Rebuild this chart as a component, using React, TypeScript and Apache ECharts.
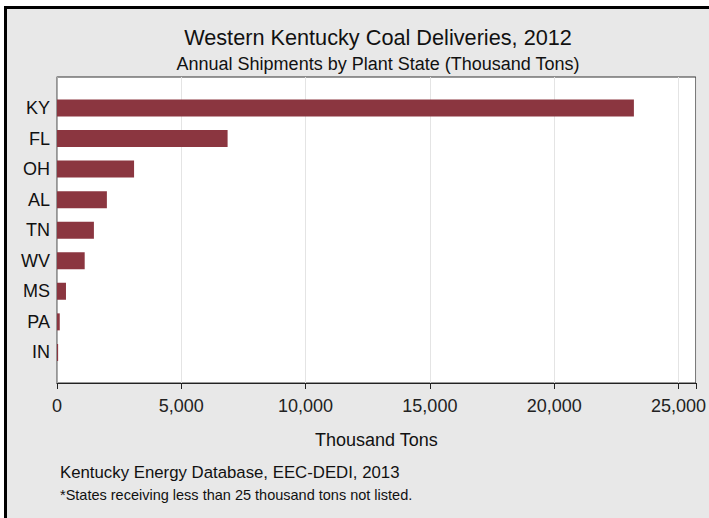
import React, { useEffect, useRef } from "react";
import * as echarts from "echarts";

const states = ["KY", "FL", "OH", "AL", "TN", "WV", "MS", "PA", "IN"];
const shipments = [23130, 6840, 3090, 2000, 1480, 1110, 360, 110, 45];
const xTicks = [0, 5000, 10000, 15000, 20000, 25000];

const FONT = "'Liberation Sans', Arial, sans-serif";

export default function App() {
  const ref = useRef<HTMLDivElement>(null);
  useEffect(() => {
    if (!ref.current) return;
    const chart = echarts.init(ref.current, null, { renderer: "svg" });
    const xMax = 25700;
    chart.setOption({
      animation: false,
      backgroundColor: "#ffffff",
      textStyle: { fontFamily: FONT },
      graphic: [
        {
          type: "rect",
          z: -10,
          silent: true,
          shape: { x: 5.5, y: 7.5, width: 800, height: 600 },
          style: { fill: "#e8e8e8", stroke: "#000", lineWidth: 3 },
        },
        {
          type: "text",
          left: 60,
          top: 464,
          style: { text: "Kentucky Energy Database, EEC-DEDI, 2013", fontSize: 16.8, fill: "#111", fontFamily: FONT },
        },
        {
          type: "text",
          left: 60,
          top: 487.5,
          style: { text: "*States receiving less than 25 thousand tons not listed.", fontSize: 14.5, fill: "#111", fontFamily: FONT },
        },
      ],
      title: [
        {
          text: "Western Kentucky Coal Deliveries, 2012",
          left: 373,
          textAlign: "center",
          top: 21,
          textStyle: { fontSize: 21.7, fontWeight: "normal", color: "#111", fontFamily: FONT },
        },
        {
          text: "Annual Shipments by Plant State (Thousand Tons)",
          left: 373,
          textAlign: "center",
          top: 50,
          textStyle: { fontSize: 18, fontWeight: "normal", color: "#111", fontFamily: FONT },
        },
      ],
      grid: [
        {
          left: 57,
          right: 11,
          top: 77,
          bottom: 135,
          show: true,
          backgroundColor: "#ffffff",
          borderColor: "#333",
          borderWidth: 1,
        },
        {
          left: 57,
          right: 11,
          top: 92.7,
          height: 275,
        },
      ],
      xAxis: [
        {
          gridIndex: 0,
          type: "value",
          min: 0,
          max: xMax,
          interval: 5000,
          name: "Thousand Tons",
          nameLocation: "middle",
          nameGap: 48,
          nameTextStyle: { fontSize: 18, color: "#111", fontFamily: FONT },
          axisLine: { show: true, lineStyle: { color: "#222", width: 1 } },
          axisTick: { show: true, length: 6, lineStyle: { color: "#222" } },
          axisLabel: {
            fontSize: 18,
            color: "#222",
            margin: 14,
            showMaxLabel: true,
            formatter: (v: number) => (xTicks.includes(v) ? v.toLocaleString("en-US") : ""),
          },
          splitLine: { show: true, lineStyle: { color: "#e4e4e4", width: 1 } },
        },
        {
          gridIndex: 1,
          type: "value",
          min: 0,
          max: xMax,
          show: false,
        },
      ],
      yAxis: [
        {
          gridIndex: 0,
          type: "value",
          min: 0,
          max: 1,
          axisLine: { show: true, lineStyle: { color: "#999", width: 1.5 } },
          axisTick: { show: false },
          axisLabel: { show: false },
          splitLine: { show: false },
        },
        {
          gridIndex: 1,
          type: "category",
          data: states,
          inverse: true,
          axisLine: { show: false },
          axisTick: { show: false },
          axisLabel: { fontSize: 18, color: "#111", margin: 7, fontFamily: FONT },
          splitLine: { show: false },
        },
      ],
      series: [
        {
          type: "bar",
          xAxisIndex: 1,
          yAxisIndex: 1,
          data: shipments,
          barWidth: 17,
          itemStyle: { color: "#8b3640" },
        },
      ],
    });
    return () => chart.dispose();
  }, []);
  return (
    <div
      ref={ref}
      style={{ position: "fixed", left: 0, top: 0, width: 709, height: 518 }}
    />
  );
}
